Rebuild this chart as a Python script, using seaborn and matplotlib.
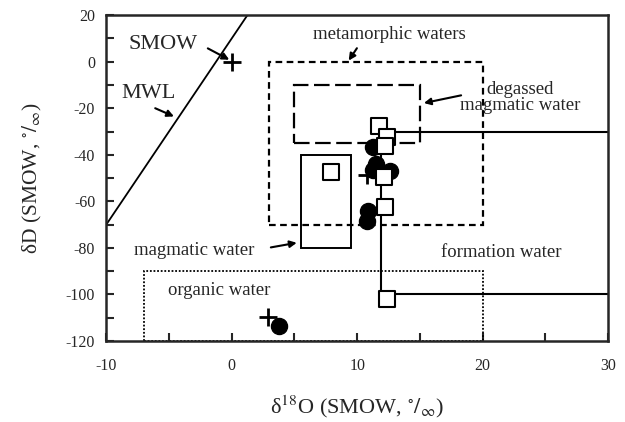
import numpy as np
import pandas as pd
import matplotlib
matplotlib.use('Agg')
import matplotlib.pyplot as plt
import seaborn as sns
from matplotlib.patches import Rectangle

# sample points (d18O, dD)
square_x = [7.9, 11.7, 12.4, 12.2, 12.1, 12.2, 12.4]
square_y = [-47.5, -27.5, -32.5, -36, -49.5, -62.5, -102]
circle_x = [11.3, 11.3, 11.5, 12.6, 10.9, 10.8, 3.8]
circle_y = [-36.5, -46.5, -44, -47, -64, -68.5, -113.5]
plus_x = [0, 10.8, 2.9]
plus_y = [0, -48.5, -109.5]

# meteoric water line
mwl_x = [-10, 1.25]
mwl_y = [-70, 20]

# formation water field outline
formation_x = [30, 11.9, 11.9, 30]
formation_y = [-30, -30, -100, -100]

# fields: name, x0, x1, y0, y1, linestyle
field_names = ['metamorphic', 'degassed', 'magmatic', 'organic']
field_x0 = [3, 5, 5.5, -7]
field_x1 = [20, 15, 9.5, 20]
field_y0 = [-70, -35, -80, -120]
field_y1 = [0, -10, -40, -90]
field_ls = [(0, (3, 2)), (0, (7, 2.5)), '-', (0, (1, 1))]
field_lw = [1.6, 1.6, 1.4, 1.3]

sns.set_style('ticks')
plt.rcParams['font.family'] = ['Liberation Serif', 'DejaVu Serif']
plt.rcParams['mathtext.fontset'] = 'stix'
plt.rcParams['axes.unicode_minus'] = False

fig = plt.figure(figsize=(6.25, 4.22), dpi=100)
ax = fig.add_axes([0.170, 0.192, 0.803, 0.772])

for i in range(len(field_names)):
    ax.add_patch(Rectangle((field_x0[i], field_y0[i]), field_x1[i] - field_x0[i],
                           field_y1[i] - field_y0[i], fill=False, edgecolor='black',
                           linestyle=field_ls[i], linewidth=field_lw[i], zorder=2))

sns.lineplot(x=mwl_x, y=mwl_y, color='black', lw=1.3, ax=ax, sort=False, estimator=None)
sns.lineplot(x=formation_x, y=formation_y, color='black', lw=1.5, ax=ax,
             sort=False, estimator=None)

sns.scatterplot(x=square_x, y=square_y, marker='s', s=125, facecolor='white',
                edgecolor='black', linewidth=1.5, ax=ax, zorder=4)
sns.scatterplot(x=circle_x, y=circle_y, marker='o', s=135, color='black',
                edgecolor='black', ax=ax, zorder=3)
sns.scatterplot(x=plus_x, y=plus_y, marker='+', s=170, color='black',
                linewidth=2, ax=ax, zorder=5)

arrow = dict(arrowstyle='-|>', color='black', lw=1.5, mutation_scale=10)
ax.text(-5.5, 7.5, 'SMOW', fontsize=16, ha='center', va='center')
ax.annotate('', xy=(0, 0.3), xytext=(-2.1, 6.3), arrowprops=arrow)
ax.text(-6.6, -13.5, 'MWL', fontsize=16, ha='center', va='center')
ax.annotate('', xy=(-4.4, -24), xytext=(-6.3, -19.5), arrowprops=arrow)
ax.text(12.6, 11.5, 'metamorphic waters', fontsize=13.5, ha='center', va='center')
ax.annotate('', xy=(9.2, -0.5), xytext=(10.1, 6.8), arrowprops=arrow)
ax.text(23.0, -15.5, 'degassed\nmagmatic water', fontsize=13.5, ha='center', va='center',
        linespacing=0.95)
ax.annotate('', xy=(15.1, -18), xytext=(18.5, -14.2), arrowprops=arrow)
ax.text(21.5, -82, 'formation water', fontsize=13.5, ha='center', va='center')
ax.text(-3.0, -81, 'magmatic water', fontsize=13.5, ha='center', va='center')
ax.annotate('', xy=(5.4, -77.6), xytext=(2.9, -80), arrowprops=arrow)
ax.text(-1.0, -98.5, 'organic water', fontsize=13.5, ha='center', va='center')

ax.set_xlim(-10, 30)
ax.set_ylim(-120, 20)
ax.set_xticks([-10, 0, 10, 20, 30])
ax.set_yticks(np.arange(-120, 21, 20))
ax.set_xticks(np.arange(-5, 30, 10), minor=True)
ax.set_yticks(np.arange(-110, 20, 20), minor=True)
ax.tick_params(which='major', direction='in', length=6, width=1.5, labelsize=11.5, pad=8)
ax.tick_params(axis='x', which='major', pad=12)
ax.tick_params(which='minor', direction='in', length=6, width=1.5)
for sp in ax.spines.values():
    sp.set_linewidth(1.8)
    sp.set_visible(True)

ax.set_xlabel('δ$^{18}$O (SMOW, $^{\\circ}/_{\\infty}$)', fontsize=16, labelpad=14)
ax.set_ylabel('δD (SMOW, $^{\\circ}/_{\\infty}$)', fontsize=15.5, labelpad=16)

fig.savefig('out.png', dpi=100)
